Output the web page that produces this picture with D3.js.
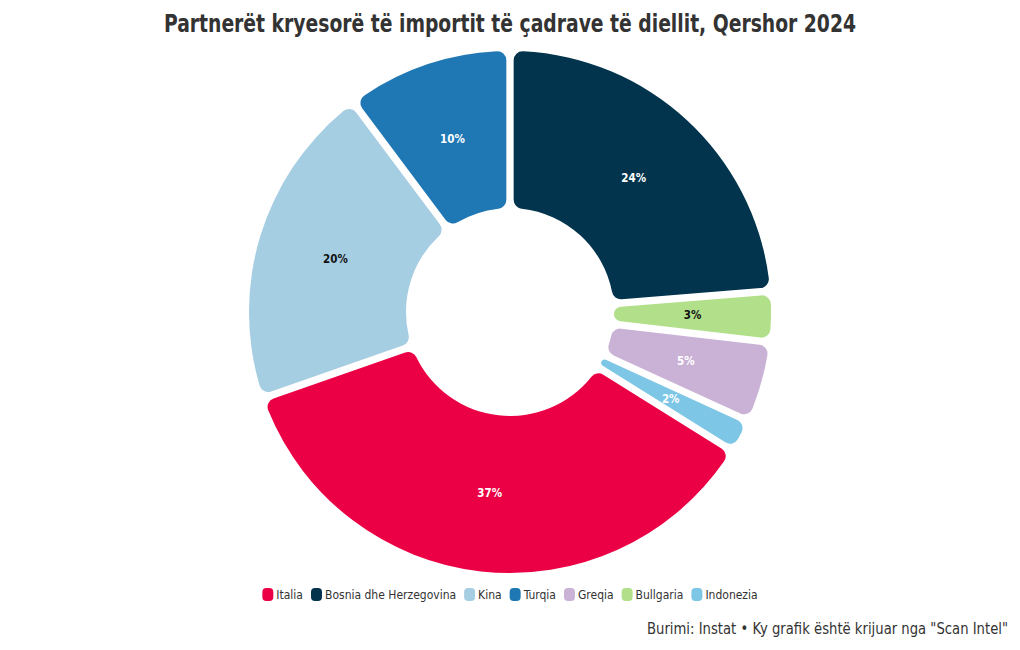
<!DOCTYPE html>
<html>
<head>
<meta charset="utf-8">
<script src="https://cdn.jsdelivr.net/npm/d3@7"></script>
<style>
  body { margin: 0; background: #fff; }
  text { font-family: "DejaVu Sans Condensed", "Liberation Sans", sans-serif; }
</style>
</head>
<body>
<script>
// data, in slice order starting at 12 o'clock
const partners = ['Bosnia dhe Herzegovina', 'Bullgaria', 'Greqia', 'Indonezia', 'Italia', 'Kina', 'Turqia']
const shares = [24.0, 2.8, 4.7, 1.7, 36.4, 20.3, 10.1]
const labels = ['24%', '3%', '5%', '2%', '37%', '20%', '10%']
const legendOrder = ['Italia', 'Bosnia dhe Herzegovina', 'Kina', 'Turqia', 'Greqia', 'Bullgaria', 'Indonezia']

const colors = {
  'Italia': '#eb0045',
  'Bosnia dhe Herzegovina': '#02344d',
  'Kina': '#a6cee3',
  'Turqia': '#1f78b4',
  'Greqia': '#cab2d6',
  'Bullgaria': '#b2df8a',
  'Indonezia': '#7ec6e5'
}
const darkText = ['Kina', 'Bullgaria']

const w = 1020
const h = 650
const cx = 510
const cy = 312

const svg = d3.select('body')
  .append('svg')
  .attr('width', w)
  .attr('height', h)

svg.append('text')
  .attr('x', w / 2)
  .attr('y', 32)
  .attr('text-anchor', 'middle')
  .attr('font-size', 25)
  .attr('font-weight', 'bold')
  .attr('fill', '#333')
  .attr('textLength', 692)
  .attr('lengthAdjust', 'spacingAndGlyphs')
  .text('Partnerët kryesorë të importit të çadrave të diellit, Qershor 2024')

const data = partners.map((p, i) => ({ name: p, value: shares[i], label: labels[i] }))

const pie = d3.pie()
  .value(d => d.value)
  .sort(null)
  .padAngle(0.026)

const arc = d3.arc()
  .innerRadius(104)
  .outerRadius(261)
  .cornerRadius(9)

const g = svg.append('g')
  .attr('transform', `translate(${cx},${cy})`)

const slices = g.selectAll('g.slice')
  .data(pie(data))
  .enter()
  .append('g')
  .attr('class', 'slice')

slices.append('path')
  .attr('d', arc)
  .attr('fill', d => colors[d.data.name])

slices.append('text')
  .attr('transform', d => `translate(${arc.centroid(d)})`)
  .attr('text-anchor', 'middle')
  .attr('dy', '0.35em')
  .attr('font-size', 11.5)
  .attr('font-weight', 'bold')
  .attr('fill', d => darkText.includes(d.data.name) ? '#111' : '#fff')
  .text(d => d.data.label)

// legend
const legend = svg.append('g')
const items = legend.selectAll('g')
  .data(legendOrder)
  .enter()
  .append('g')

items.append('rect')
  .attr('width', 11)
  .attr('height', 13)
  .attr('rx', 4)
  .attr('y', -11)
  .attr('fill', d => colors[d])

items.append('text')
  .attr('x', 14)
  .attr('font-size', 12)
  .attr('fill', '#333')
  .text(d => d)

let xpos = 0
items.each(function () {
  d3.select(this).attr('transform', `translate(${xpos},0)`)
  xpos += this.getBBox().width + 8
})
legend.attr('transform', `translate(${(w - (xpos - 8)) / 2},599)`)

svg.append('text')
  .attr('x', 1008)
  .attr('y', 634)
  .attr('text-anchor', 'end')
  .attr('font-size', 15)
  .attr('fill', '#333')
  .attr('textLength', 361)
  .attr('lengthAdjust', 'spacingAndGlyphs')
  .text('Burimi: Instat • Ky grafik është krijuar nga "Scan Intel"')
</script>
</body>
</html>
